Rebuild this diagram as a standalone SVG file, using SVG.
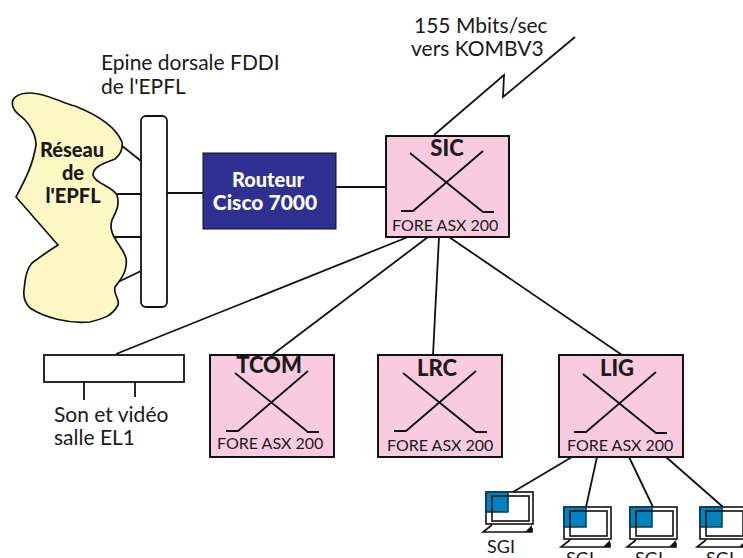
<svg xmlns="http://www.w3.org/2000/svg" width="743" height="558" viewBox="0 0 743 558">
<defs>
<style>
text{font-family:"Lato","Liberation Sans",sans-serif;fill:#1a1a1a}
.t{font-size:21px}
.s{font-size:18px}
.f{font-size:16px}
.b{font-size:21px;font-weight:900;text-anchor:middle}
.l{fill:none;stroke:#111;stroke-width:1.8}
.box{fill:#f8cbdf;stroke:#111;stroke-width:2}
.scr{fill:#0083bf;stroke:#04384f;stroke-width:1.5}
.mon{fill:none;stroke:#111;stroke-width:1.6}
</style>
<g id="sw"><path class="l" d="M-37 -26 L36 33 L47 33 M36 -28 L-34 32 L-46 32"/></g>
<g id="pc">
<rect class="mon" x="0" y="0" width="47" height="32"/>
<rect class="scr" x="0" y="0" width="22" height="20"/>
<rect class="mon" x="6" y="4" width="37" height="25"/>
<path class="mon" d="M6 33 L-3 40 H46 V36"/>
<path d="M39 40 L46 33 V40Z" fill="#111"/>
</g>
</defs>
<g id="connectors">
<path class="l" d="M121 145 L141 161 M117 194 H141 M114 237 H141 M118 282 L141 271 M167 193 H203 M336 187 H386"/>
<path class="l" d="M434 135 L504 75 L503 97 L575 37"/>
<path class="l" d="M408 237 L116 354 M428 237 L272 355 M439 237 L433 355 M449 237 L622 355"/>
<path class="l" d="M84 382 V400 M135 382 V397"/>
<path class="l" d="M572 457 L513 492 M597 457 L586 507 M629 457 L653 507 M666 457 L723 507"/>
</g>
<g id="reseau">
<path d="M13 107 C10 98 18 93 30 93 C45 93 60 102 75 106 C95 114 115 125 122 142 C123 150 120 155 115 159 C105 163 93 166 93 175 C94 183 112 186 117 195 C120 205 116 212 112 220 C107 235 122 245 126 258 C128 272 120 280 115 287 C113 295 120 298 118 305 C112 316 105 318 90 322 C70 324 45 318 30 308 C25 303 23 298 24 290 C25 280 26 270 32 263 C40 257 50 250 58 245 L16 197 C25 180 33 165 36 145 C36 135 30 125 25 120 C20 115 15 113 13 107Z" fill="#fdf8c4" stroke="#111" stroke-width="1.7"/>
<text class="b" style="font-size:20px" x="72" y="157">Réseau</text>
<text class="b" style="font-size:20px" x="73" y="180">de</text>
<text class="b" style="font-size:20px" x="73" y="203">l'EPFL</text>
</g>
<g id="fddi"><rect x="141" y="116" width="26" height="191" rx="5" fill="#fff" stroke="#111" stroke-width="1.8"/>
<text class="t" x="101" y="70">Epine dorsale FDDI</text><text class="t" x="101" y="94">de l'EPFL</text></g>
<g id="routeur"><rect x="203" y="153" width="133" height="76" fill="#2e3192" stroke="#111" stroke-width="1"/>
<text class="b" style="fill:#fff;font-size:20px" x="268" y="187">Routeur</text><text class="b" style="fill:#fff" x="265" y="210">Cisco 7000</text></g>
<g id="sic"><rect class="box" x="386" y="136" width="123" height="101"/><use href="#sw" x="447" y="179"/>
<text class="b" x="447" y="156" style="font-size:22px">SIC</text><text class="f" x="392" y="231">FORE ASX 200</text></g>
<g id="tcom"><rect class="box" x="210" y="355" width="124" height="102"/><use href="#sw" x="272" y="399"/>
<text class="b" x="269" y="373" style="font-size:22px">TCOM</text><text class="f" x="217" y="449">FORE ASX 200</text></g>
<g id="lrc"><rect class="box" x="378" y="355" width="124" height="102"/><use href="#sw" x="440" y="399"/>
<text class="b" x="437" y="376" style="font-size:22px">LRC</text><text class="f" x="387" y="451">FORE ASX 200</text></g>
<g id="lig"><rect class="box" x="559" y="355" width="124" height="102"/><use href="#sw" x="620" y="400"/>
<text class="b" x="617" y="376" style="font-size:22px">LIG</text><text class="f" x="567" y="451">FORE ASX 200</text></g>
<g id="son"><rect x="44" y="355" width="140" height="27" fill="#fff" stroke="#111" stroke-width="1.8"/>
<text class="t" x="54" y="422">Son et vidéo</text><text class="t" x="54" y="445">salle EL1</text></g>
<g id="sgi1"><use href="#pc" x="486" y="492"/><text class="s" x="487" y="553">SGI</text></g>
<g id="sgi2"><use href="#pc" x="564" y="507"/><text class="s" x="566" y="565">SGI</text></g>
<g id="sgi3"><use href="#pc" x="630" y="507"/><text class="s" x="635" y="565">SGI</text></g>
<g id="sgi4"><use href="#pc" x="700" y="507"/><text class="s" x="706" y="565">SGI</text></g>
<g id="wan"><text class="t" x="414" y="33">155 Mbits/sec</text><text class="t" x="411" y="56">vers KOMBV3</text></g>
</svg>
